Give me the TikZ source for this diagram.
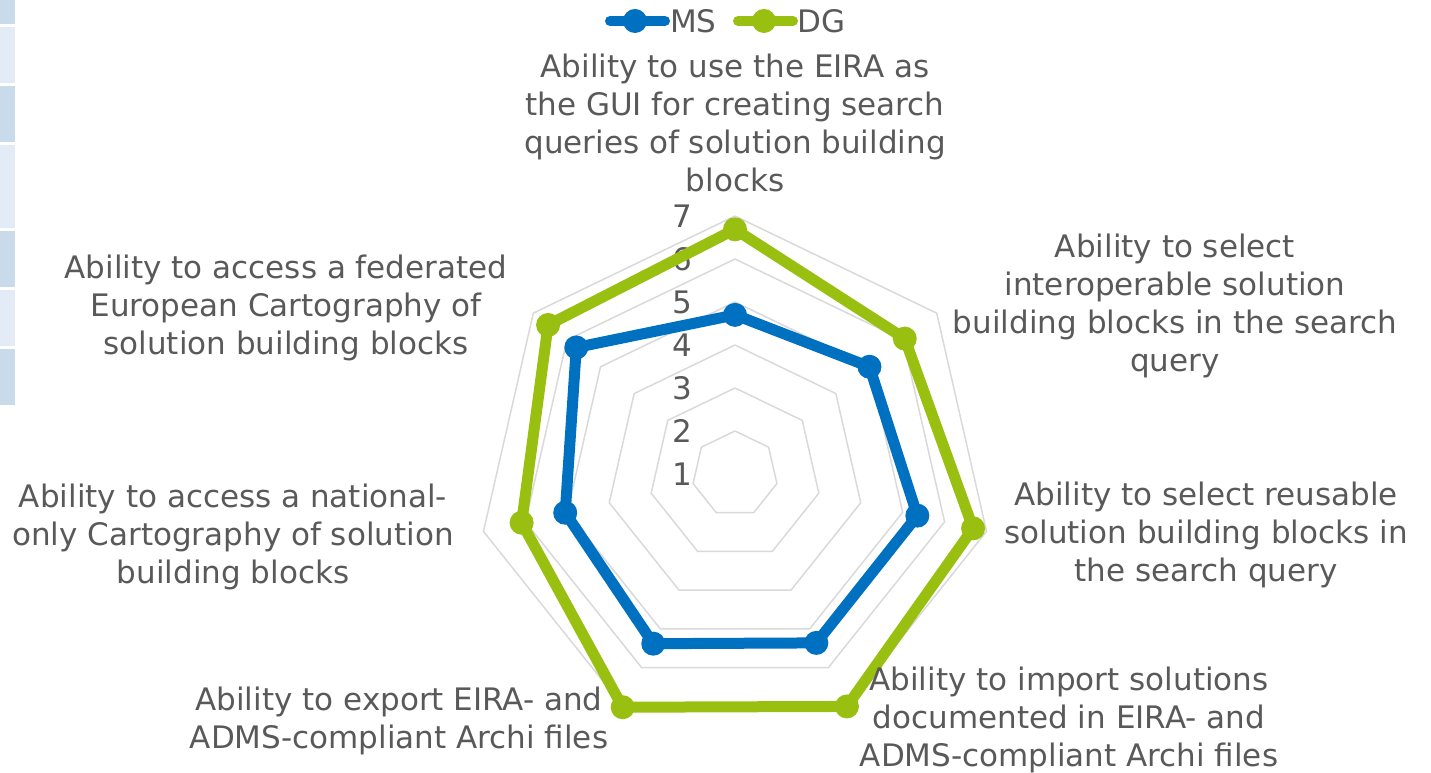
\documentclass[tikz,border=0pt]{standalone}
\usepackage{fontspec}
\setmainfont{DejaVu Sans}
\usepackage{tikz}
\usetikzlibrary{positioning}
\definecolor{msblue}{RGB}{0,112,192}
\definecolor{dggreen}{RGB}{153,192,16}
\definecolor{gridgrey}{RGB}{217,217,217}
\definecolor{txtgrey}{RGB}{89,89,89}
\definecolor{celldark}{RGB}{201,218,235}
\definecolor{celllight}{RGB}{227,236,246}
\tikzstyle{chart}=[x=1pt, y=1pt, every node/.style={text=txtgrey, inner sep=0,
                font=\fontsize{31}{38}\selectfont}]
\tikzstyle{catlabel}=[align=center, anchor=north]
\tikzstyle{ticklbl}=[anchor=east]
\tikzstyle{ring}=[draw=gridgrey, line width=1.5pt, line join=round]
\tikzstyle{serline}=[line width=11pt, line join=round, line cap=round]

\begin{document}
\begin{tikzpicture}[chart]
  \path[use as bounding box] (-735,-299) rectangle (696,474);
  % cells at the left edge
  \foreach \top/\bot/\col in {0/24/celldark, 27/83/celllight, 86/142/celldark,
      145/228/celllight, 231/287/celldark, 290/346/celllight, 349/405/celldark}
    \fill[\col] (-735,474-\top) rectangle (-720,474-\bot);
  % rings
  \foreach \k in {2,...,7}
    \draw[ring] (90:{(\k-1)*43}) \foreach \j in {1,...,6}{ -- ({90-\j*360/7}:{(\k-1)*43})} -- cycle;
  \foreach \k in {1,...,7}
    \node[ticklbl] (tick\k) at (-43,{(\k-1)*43}) {\k};
  % series
  \foreach \v [count=\i] in {4.70,5.00,5.35,5.36,5.38,5.05,5.72}
    \coordinate (ms\i) at ({90-(\i-1)*360/7}:{(\v-1)*43});
  \foreach \v [count=\i] in {6.69,6.05,6.68,7.00,7.02,6.09,6.56}
    \coordinate (dg\i) at ({90-(\i-1)*360/7}:{(\v-1)*43});
  \draw[serline, msblue] (ms1) \foreach \i in {2,...,7}{ -- (ms\i)} -- cycle;
  \foreach \i in {1,...,7} \fill[msblue] (ms\i) circle (12);
  \draw[serline, dggreen] (dg1) \foreach \i in {2,...,7}{ -- (dg\i)} -- cycle;
  \foreach \i in {1,...,7} \fill[dggreen] (dg\i) circle (12);
  % category labels
  \node[catlabel] (cat1) at (0,420.6) {Ability to use the EIRA as\\the GUI for creating search\\queries of solution building\\blocks};
  \node[catlabel] (cat2) at (440,240.6) {Ability to select\\interoperable solution\\building blocks in the search\\query};
  \node[catlabel] (cat3) at (471,-7.4) {Ability to select reusable\\solution building blocks in\\the search query};
  \node[catlabel] (cat4) at (334,-192.4) {Ability to import solutions\\documented in EIRA- and\\ADMS-compliant Archi files};
  \node[catlabel] (cat5) at (-336,-212.4) {Ability to export EIRA- and\\ADMS-compliant Archi files};
  \node[catlabel] (cat6) at (-502,-9.4) {Ability to access a national-\\only Cartography of solution\\building blocks};
  \node[catlabel] (cat7) at (-449,219.6) {Ability to access a federated\\European Cartography of\\solution building blocks};
  % legend
  \node[anchor=west] (legMS) at (-65,453) {MS};
  \node[anchor=west] (legDG) at (62,453) {DG};
  \draw[serline, line width=10pt, msblue] ([xshift=-5pt]legMS.west) -- ++(-55,0);
  \fill[msblue] ([xshift=-35pt]legMS.west) circle (12);
  \draw[serline, line width=10pt, dggreen] ([xshift=-4pt]legDG.west) -- ++(-55,0);
  \fill[dggreen] ([xshift=-33pt]legDG.west) circle (12);
\end{tikzpicture}
\end{document}
